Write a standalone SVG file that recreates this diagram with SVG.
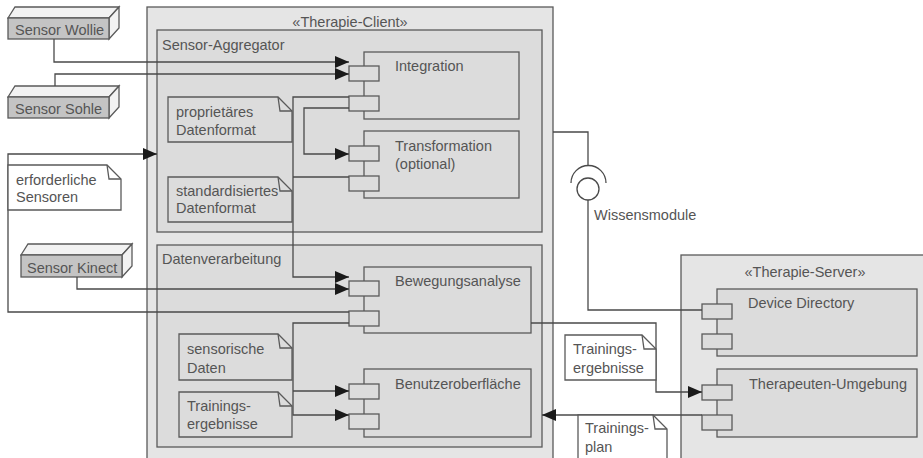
<svg xmlns="http://www.w3.org/2000/svg" width="923" height="458" viewBox="0 0 923 458">
<style>
text{font-family:"Liberation Sans",Arial,sans-serif;font-size:14.5px;fill:#555}
.outer{fill:#e5e5e5;stroke:#5a5a5a;stroke-width:1.3}
.inner{fill:#dcdcdc;stroke:#5a5a5a;stroke-width:1.3}
.comp{fill:#dcdcdc;stroke:#5a5a5a;stroke-width:1.3}
.port{fill:#dcdcdc;stroke:#5a5a5a;stroke-width:1.3}
.note{stroke:#5a5a5a;stroke-width:1.3}
.wn{fill:#fff}
.gn{fill:#dcdcdc}
.sf{fill:#c4c4c4;stroke:#5a5a5a;stroke-width:1.3}
.st{fill:#f2f2f2;stroke:#5a5a5a;stroke-width:1.3}
.c{fill:none;stroke:#4a4a4a;stroke-width:1.3}
.fold{fill:none;stroke:#5a5a5a;stroke-width:1.3}
</style>
<defs>
<marker id="a" markerWidth="14" markerHeight="12" refX="14" refY="6" orient="auto" markerUnits="userSpaceOnUse"><path d="M0,0 L14,6 L0,12 z" fill="#1a1a1a"/></marker>
</defs>
<rect width="923" height="458" fill="#fff"/>

<g id="therapie-client">
<rect class="outer" x="147" y="7" width="406" height="470"/>
<text x="350" y="27" text-anchor="middle">«Therapie-Client»</text>
</g>
<g id="sensor-aggregator">
<rect class="inner" x="157" y="30" width="385" height="202"/>
<text x="162" y="50">Sensor-Aggregator</text>
</g>
<g id="datenverarbeitung">
<rect class="inner" x="157" y="245" width="385" height="202"/>
<text x="162" y="264">Datenverarbeitung</text>
</g>
<g id="therapie-server">
<rect class="outer" x="681" y="255" width="260" height="220"/>
<text x="805" y="277" text-anchor="middle">«Therapie-Server»</text>
</g>

<g id="integration">
<rect class="comp" x="364" y="52" width="155" height="67"/>
<rect class="port" x="349" y="66" width="30" height="15"/>
<rect class="port" x="349" y="96" width="30" height="15"/>
<text x="395" y="71">Integration</text>
</g>
<g id="transformation">
<rect class="comp" x="364" y="131" width="155" height="67"/>
<rect class="port" x="349" y="146" width="30" height="15"/>
<rect class="port" x="349" y="176" width="30" height="15"/>
<text x="395" y="151">Transformation</text>
<text x="395" y="169">(optional)</text>
</g>
<g id="bewegungsanalyse">
<rect class="comp" x="364" y="267" width="167" height="66"/>
<rect class="port" x="349" y="281" width="30" height="15"/>
<rect class="port" x="349" y="311" width="30" height="15"/>
<text x="395" y="286">Bewegungsanalyse</text>
</g>
<g id="benutzeroberflaeche">
<rect class="comp" x="364" y="369" width="167" height="68"/>
<rect class="port" x="349" y="384" width="30" height="15"/>
<rect class="port" x="349" y="414" width="30" height="15"/>
<text x="395" y="389">Benutzeroberfläche</text>
</g>
<g id="device-directory">
<rect class="comp" x="717" y="289" width="200" height="67"/>
<rect class="port" x="702" y="304" width="30" height="15"/>
<rect class="port" x="702" y="334" width="30" height="15"/>
<text x="748" y="308">Device Directory</text>
</g>
<g id="therapeuten-umgebung">
<rect class="comp" x="717" y="369" width="200" height="68"/>
<rect class="port" x="702" y="385" width="30" height="15"/>
<rect class="port" x="702" y="415" width="30" height="15"/>
<text x="749" y="389">Therapeuten-Umgebung</text>
</g>

<g id="sensor-wollie">
<polygon class="st" points="8,18 15,7 119,7 109,18"/>
<polygon class="st" points="109,18 119,7 119,28 109,39"/>
<rect class="sf" x="8" y="18" width="101" height="21"/>
<text x="15" y="35">Sensor Wollie</text>
</g>
<g id="sensor-sohle">
<polygon class="st" points="8,97 15,86 119,86 109,97"/>
<polygon class="st" points="109,97 119,86 119,107 109,118"/>
<rect class="sf" x="8" y="97" width="101" height="21"/>
<text x="15" y="114">Sensor Sohle</text>
</g>
<g id="sensor-kinect">
<polygon class="st" points="21,255 28,244 132,244 122,255"/>
<polygon class="st" points="122,255 132,244 132,266 122,277"/>
<rect class="sf" x="21" y="255" width="101" height="22"/>
<text x="27" y="273">Sensor Kinect</text>
</g>

<g id="connectors">
<path class="c" d="M54,39 V62 H349" marker-end="url(#a)"/>
<path class="c" d="M55,86 V74 H349" marker-end="url(#a)"/>
<path class="c" d="M349,108 H304 V154 H349" marker-end="url(#a)"/>
<path class="c" d="M349,97 H293 V277 H349" marker-end="url(#a)"/>
<path class="c" d="M349,177 H293"/>
<path class="c" d="M77,277 V289 H349" marker-end="url(#a)"/>
<path class="c" d="M349,312 H8 V154 H157" marker-end="url(#a)"/>
<path class="c" d="M349,323 H293 V415 H349" marker-end="url(#a)"/>
<path class="c" d="M293,391 H349" marker-end="url(#a)"/>
<path class="c" d="M531,323 H656 V392 H702" marker-end="url(#a)"/>
<path class="c" d="M702,415 H542" marker-end="url(#a)"/>
<path class="c" d="M553,132 H588 V166"/>
<path class="c" d="M571,183 A17,17 0 0 1 606,183"/>
<circle class="c" cx="588" cy="189" r="11"/>
<path class="c" d="M588,200 V310 H702"/>
<text x="594" y="220">Wissensmodule</text>
</g>

<g id="note-proprietaer">
<path class="note gn" d="M168,97 H278 L292,111 V142 H168 Z"/>
<path class="fold" d="M278,97 L280,111 H292"/>
<text x="176" y="117">proprietäres</text>
<text x="176" y="135">Datenformat</text>
</g>
<g id="note-standard">
<path class="note gn" d="M168,177 H278 L292,191 V222 H168 Z"/>
<path class="fold" d="M278,177 L280,191 H292"/>
<text x="176" y="196">standardisiertes</text>
<text x="176" y="213">Datenformat</text>
</g>
<g id="note-erforderlich">
<path class="note wn" d="M8,165 H107 L121,179 V210 H8 Z"/>
<path class="fold" d="M107,165 L109,179 H121"/>
<text x="16" y="185">erforderliche</text>
<text x="16" y="202">Sensoren</text>
</g>
<g id="note-sensorisch">
<path class="note gn" d="M179,334 H278 L292,348 V380 H179 Z"/>
<path class="fold" d="M278,334 L280,348 H292"/>
<text x="187" y="354">sensorische</text>
<text x="187" y="373">Daten</text>
</g>
<g id="note-training-inner">
<path class="note gn" d="M179,392 H278 L292,406 V437 H179 Z"/>
<path class="fold" d="M278,392 L280,406 H292"/>
<text x="187" y="411">Trainings-</text>
<text x="187" y="429">ergebnisse</text>
</g>
<g id="note-training-outer">
<path class="note wn" d="M565,335 H642 L656,349 V380 H565 Z"/>
<path class="fold" d="M642,335 L644,349 H656"/>
<text x="573" y="354">Trainings-</text>
<text x="573" y="373">ergebnisse</text>
</g>
<g id="note-trainingsplan">
<path class="note wn" d="M578,415 H653 L667,429 V475 H578 Z"/>
<path class="fold" d="M653,415 L655,429 H667"/>
<text x="585" y="433">Trainings-</text>
<text x="585" y="452">plan</text>
</g>
</svg>
